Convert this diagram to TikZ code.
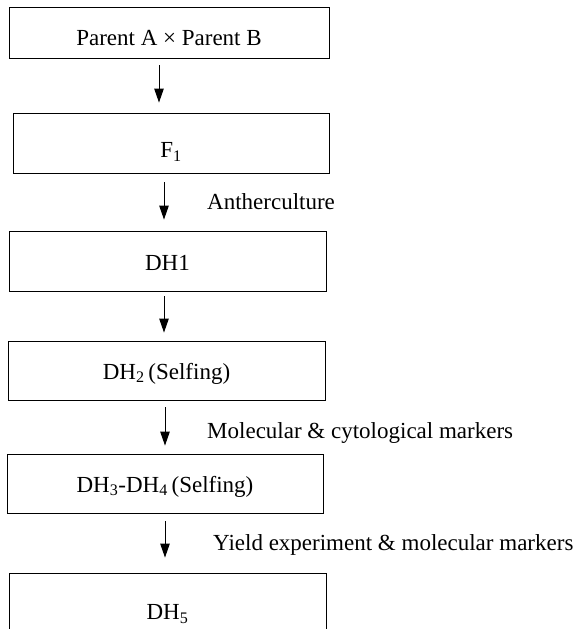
\documentclass[tikz,border=0pt]{standalone}
\usepackage{fontspec}
\setmainfont{Liberation Serif}
\usetikzlibrary{arrows.meta}

\begin{document}
\begin{tikzpicture}[x=1pt,y=-1pt,>={Triangle[length=14pt,width=9.5pt]},font=\fontsize{23}{27}\selectfont]
		\tikzstyle{stage}=[rectangle,draw,line width=0.9pt,inner sep=0pt,text depth=4pt,text height=21pt];
		\tikzstyle{flow}=[->,line width=1pt];
		\tikzstyle{note}=[anchor=base west,inner sep=0pt];
		\useasboundingbox(0,0)rectangle(580,629);
		\clip(0,0)rectangle(580,629);

		\node[stage,minimum width=320pt,minimum height=51pt,text height=29pt](cross)at(169,32.5){Parent A × Parent B};
		\node[stage,minimum width=316pt,minimum height=60pt,text height=33pt](f1)at(171,143){F\textsubscript{1}};
		\node[stage,minimum width=317pt,minimum height=60pt,text height=23pt](dh1)at(167.5,261){DH1};
		\node[stage,minimum width=317pt,minimum height=59pt](dh2)at(166.5,370.5){DH\textsubscript{2}\,(Selfing)};
		\node[stage,minimum width=316pt,minimum height=59pt](dh34)at(165,483.5){DH\textsubscript{3}-DH\textsubscript{4}\,(Selfing)};
		\node[stage,minimum width=317pt,minimum height=66pt,text height=31pt](dh5)at(167.5,606){DH\textsubscript{5}};

		\draw[flow,shorten <=7pt,shorten >=10pt]([xshift=-10pt]cross.south)--([xshift=-12pt]f1.north);
		\draw[flow,shorten <=9pt,shorten >=11pt]([xshift=-7pt]f1.south)--([xshift=-3.5pt]dh1.north);
		\draw[flow,shorten <=5pt,shorten >=8pt]([xshift=-3.5pt]dh1.south)--([xshift=-2.5pt]dh2.north);
		\draw[flow,shorten <=7pt,shorten >=8pt]([xshift=-1.5pt]dh2.south)--(dh34.north);
		\draw[flow,shorten <=8pt,shorten >=15pt](dh34.south)--([xshift=-2.5pt]dh5.north);

		\node[note](anther)at(207,209){Antherculture};
		\node[note](molcyto)at(207,438){Molecular \& cytological markers};
		\node[note](yieldmol)at(213,550){Yield experiment \& molecular markers};
	\end{tikzpicture}
\end{document}
